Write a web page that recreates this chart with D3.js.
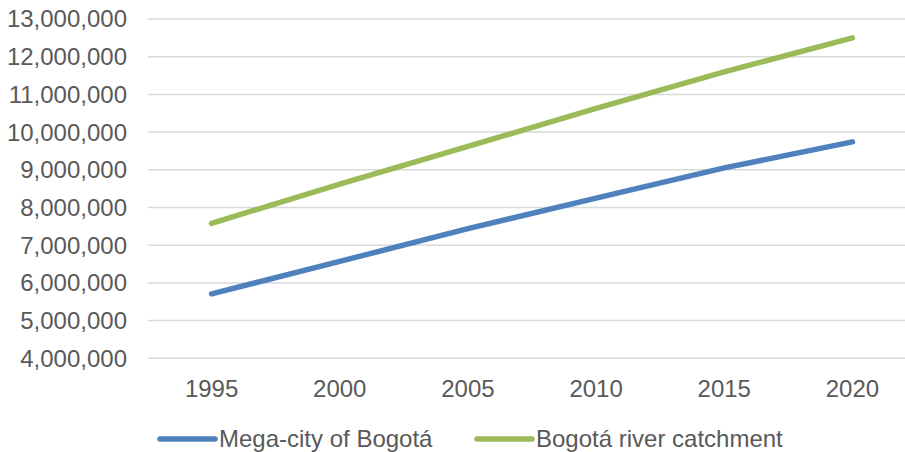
<!DOCTYPE html>
<html>
<head>
<meta charset="utf-8">
<script src="https://cdn.jsdelivr.net/npm/d3@7"></script>
<style>
  body { margin: 0; background: #fff; }
  svg { display: block; font-family: "Liberation Sans", Arial, sans-serif; }
  .grid line { stroke: #d9d9d9; stroke-width: 1.5; }
  .tick-label { fill: #595959; font-size: 24px; }
</style>
</head>
<body>
<svg id="chart"></svg>
<script>
// Population estimates
const years = ["1995", "2000", "2005", "2010", "2015", "2020"];
const megaCity = [5710000, 6570000, 7440000, 8250000, 9050000, 9740000];
const catchment = [7580000, 8620000, 9620000, 10630000, 11600000, 12500000];
const yTicks = [4000000, 5000000, 6000000, 7000000, 8000000, 9000000,
                10000000, 11000000, 12000000, 13000000];
const seriesNames = ["Mega-city of Bogotá", "Bogotá river catchment"];
const seriesColors = ["#4f81bd", "#9bbb59"];

const width = 905, height = 452;
const svg = d3.select("#chart")
    .attr("width", width)
    .attr("height", height);

// plot area runs past the right edge, like the cropped original
const x = d3.scalePoint()
    .domain(years)
    .range([147.5, 916.5])
    .padding(0.5);

const y = d3.scaleLinear()
    .domain([4000000, 13000000])
    .range([358.3, 19]);

const fmt = d3.format(",");

// Gridlines
svg.append("g")
    .attr("class", "grid")
    .selectAll("line")
    .data(yTicks)
    .join("line")
    .attr("x1", 148)
    .attr("x2", 917)
    .attr("y1", d => y(d))
    .attr("y2", d => y(d));

// Y axis labels
svg.append("g")
    .selectAll("text")
    .data(yTicks)
    .join("text")
    .attr("class", "tick-label")
    .attr("x", 127)
    .attr("y", d => y(d))
    .attr("dy", "0.35em")
    .attr("text-anchor", "end")
    .text(d => fmt(d));

// X axis labels
svg.append("g")
    .selectAll("text")
    .data(years)
    .join("text")
    .attr("class", "tick-label")
    .attr("x", d => x(d))
    .attr("y", 397)
    .attr("text-anchor", "middle")
    .text(d => d);

// Lines
const series = [megaCity, catchment];
const line = d3.line()
    .x((d, i) => x(years[i]))
    .y(d => y(d));

svg.append("g")
    .selectAll("path")
    .data(series)
    .join("path")
    .attr("d", d => line(d))
    .attr("fill", "none")
    .attr("stroke", (d, i) => seriesColors[i])
    .attr("stroke-width", 5.5)
    .attr("stroke-linecap", "round")
    .attr("stroke-linejoin", "round");

// Legend
const legendX = [160, 477];
const legend = svg.append("g")
    .selectAll("g")
    .data(seriesNames)
    .join("g")
    .attr("transform", (d, i) => `translate(${legendX[i]},439)`);

legend.append("line")
    .attr("x1", 0)
    .attr("x2", 55)
    .attr("stroke", (d, i) => seriesColors[i])
    .attr("stroke-width", 5.5)
    .attr("stroke-linecap", "round");

legend.append("text")
    .attr("class", "tick-label")
    .attr("x", 59)
    .attr("y", 7.7)
    .text(d => d);
</script>
</body>
</html>
